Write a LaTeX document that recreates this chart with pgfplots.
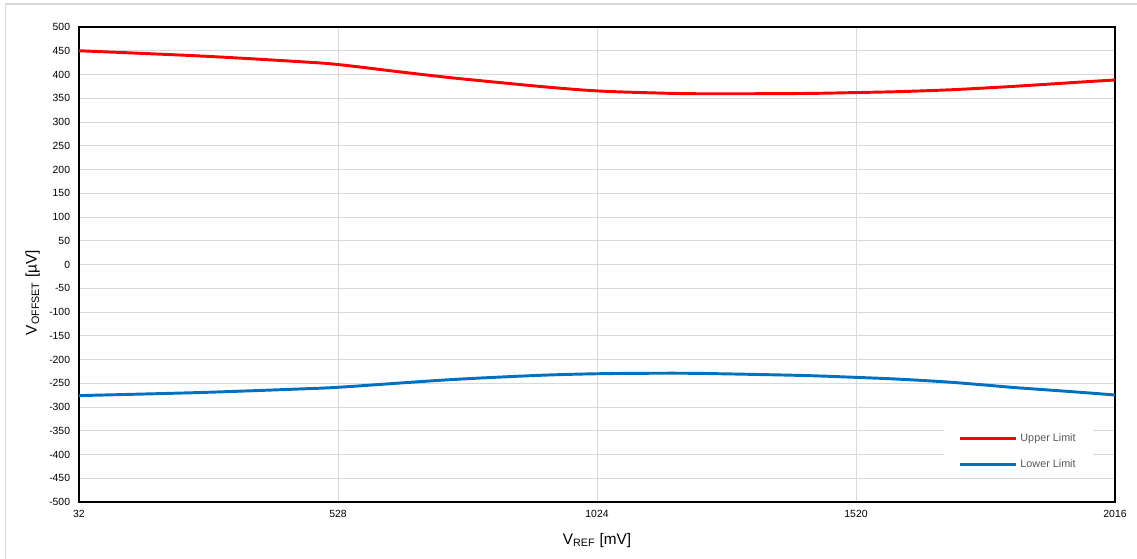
\documentclass[border=0pt]{standalone}
\usepackage{fontspec}
\setmainfont{Liberation Sans}
\usepackage{pgfplots}
\pgfplotsset{compat=1.18}
\definecolor{upred}{RGB}{255,0,0}
\definecolor{lowblue}{RGB}{0,112,192}
\definecolor{gridgray}{RGB}{217,217,217}
\definecolor{legtext}{RGB}{89,89,89}
\begin{document}
\begin{tikzpicture}
\path[use as bounding box] (0pt,0pt) rectangle (852.75pt,418.5pt);
\draw[gridgray,line width=1.2pt] (4.1pt,-5pt) -- (4.1pt,415.5pt) -- (860pt,415.5pt);
\begin{axis}[
  at={(59.25pt,42pt)}, anchor=south west,
  scale only axis,
  width=777pt, height=356.25pt,
  xmin=32, xmax=2016, ymin=-500, ymax=500,
  xtick={32,528,1024,1520,2016},
  ytick={-500,-450,...,500},
  grid=major,
  major grid style={gridgray,line width=0.75pt},
  major tick length=0pt,
  axis line style={black,line width=1.5pt},
  tick label style={font=\fontsize{7.8}{9}\selectfont},
  /pgf/number format/assume math mode=true,
  /pgf/number format/.cd, 1000 sep={}, /pgfplots/.cd,
  yticklabel style={anchor=east,inner sep=0pt,xshift=-6.5pt},
  xticklabel style={anchor=north,inner sep=0pt,yshift=-5.6pt},
  legend style={draw=none, fill=white, at={(0.979,0.162)}, anchor=north east,
    font=\fontsize{8.1}{9.6}\selectfont, text=legtext, row sep=8.6pt,
    inner xsep=11pt, inner ysep=4pt},
  legend cell align=left,
  legend image code/.code={\draw[#1] (0pt,0pt) -- (42pt,0pt);},
]
\addplot[upred, line width=2.2pt, smooth, tension=0.55] coordinates {
(32,450) (264,439) (455,427) (528,421) (647,405.5) (742,393.5) (838,383)
(934,373) (1024,365.5) (1125,361.5) (1221,359.5) (1413,360) (1520,362)
(1604,364) (1694,367.5) (1757,371) (1821,375) (1886,379.5) (1949,384) (2016,388.5)};
\addlegendentry{Upper Limit}
\addplot[lowblue, line width=2.2pt, smooth, tension=0.55] coordinates {
(32,-276) (264,-269.5) (455,-262) (528,-258.5) (647,-249.5) (742,-242.5) (838,-237)
(934,-232.5) (1024,-230) (1125,-229) (1221,-229.3) (1413,-233.5) (1520,-237.6)
(1604,-241.5) (1694,-247.3) (1757,-252.8) (1821,-258.8) (1886,-264) (1949,-269) (2016,-274.7)};
\addlegendentry{Lower Limit}
\end{axis}
\node[anchor=base,inner sep=0pt,font=\fontsize{11.5}{13}\selectfont] at (447.75pt,10.5pt) {V\textsubscript{REF} [mV]};
\node[anchor=base,rotate=90,inner sep=0pt,font=\fontsize{11.5}{13}\selectfont] at (27.5pt,199.1pt) {V\textsubscript{OFFSET} [µV]};
\end{tikzpicture}
\end{document}
